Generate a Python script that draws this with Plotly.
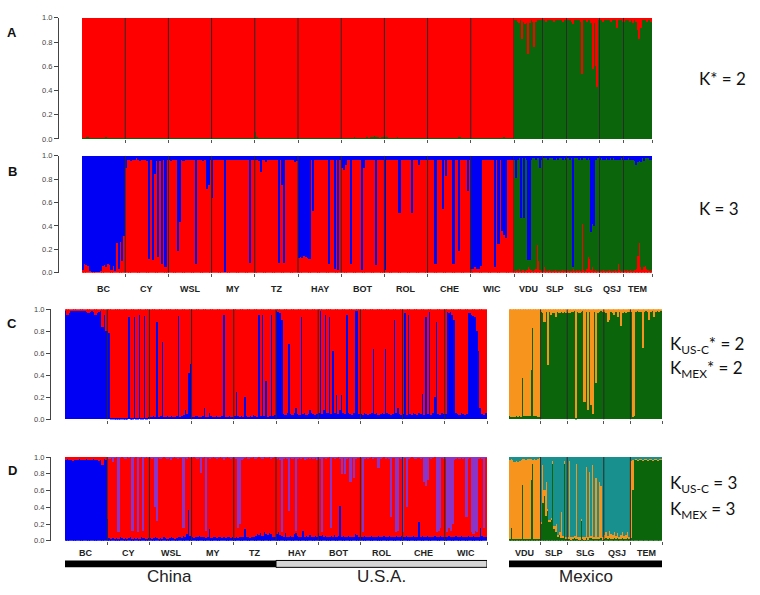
import plotly.graph_objects as go

W, H = 760, 595

# ---------------- data ----------------
pops_cu = ["BC", "CY", "WSL", "MY", "TZ", "HAY", "BOT", "ROL", "CHE", "WIC"]
pops_mx = ["VDU", "SLP", "SLG", "QSJ", "TEM"]
counts_cu = [24, 24, 24, 24, 24, 24, 24, 24, 24, 24]
counts_mx = [19, 16, 22, 16, 19]
countries = ["China", "U.S.A.", "Mexico"]
y_ticks = [0.0, 0.2, 0.4, 0.6, 0.8, 1.0]

# Panel A (K*=2): % green (bottom); red = rest
A_green = [
    1,1,2,2,1,1,1,1,1,1,1,1,1,2,1,1,1,1,1,1,1,1,1,1,          # BC
    1,1,1,1,1,1,1,1,1,1,1,1,1,1,1,1,1,1,1,1,1,1,1,1,          # CY
    1,1,1,1,1,1,1,1,1,1,1,1,1,1,1,1,1,1,1,1,1,1,1,1,          # WSL
    1,1,1,1,1,1,1,1,1,1,1,1,1,1,1,1,1,1,1,1,1,1,1,1,          # MY
    6,2,1,1,1,1,1,1,1,1,1,1,1,1,1,1,1,1,1,1,1,1,1,1,          # TZ
    1,1,1,1,1,1,1,1,1,1,1,1,1,1,1,1,1,1,1,1,1,1,1,1,          # HAY
    1,1,1,1,1,1,1,2,1,1,1,1,1,1,2,1,2,2,3,2,2,1,2,2,          # BOT
    2,2,1,1,1,1,1,2,1,1,1,1,1,1,1,1,1,1,1,1,1,1,1,1,          # ROL
    1,1,1,1,1,1,1,1,1,1,1,1,1,1,1,1,1,2,2,1,1,1,1,1,          # CHE
    1,1,1,1,1,1,1,1,1,1,1,1,1,1,1,1,1,1,2,1,1,1,1,1,          # WIC
    99,98,97,96,98,83,97,95,96,70,96,98,97,76,97,98,99,99,98,  # VDU
    98,99,97,98,99,98,99,97,98,99,98,98,99,97,98,99,          # SLP
    99,98,99,97,95,99,98,99,98,97,54,98,99,97,98,99,96,58,96,60,43,98,  # SLG
    98,99,97,99,98,99,98,97,99,98,99,92,98,99,98,97,          # QSJ
    97,98,99,98,97,99,96,98,97,90,83,92,98,99,98,97,99,98,97,  # TEM
]

# Panel B (K=3): % red (bottom), % green (middle); blue = rest (top)
B_red = [
    3,8,7,6,2,1,1,1,1,1,2,6,7,5,8,7,3,6,2,26,4,27,10,32,
    90,97,97,96,97,97,98,97,96,97,97,97,96,12,97,11,85,96,14,96,8,97,5,97,
    97,96,97,97,97,19,44,97,96,97,97,97,97,97,97,8,97,97,97,96,97,72,75,97,
    64,97,97,97,97,97,97,1,97,97,97,97,97,97,97,97,97,97,97,97,97,9,97,97,
    97,97,96,86,97,97,95,97,97,97,97,97,97,9,97,75,9,97,97,97,97,97,95,96,
    13,14,13,15,14,13,12,97,53,97,97,97,97,97,97,97,97,8,97,97,4,97,3,97,
    90,88,92,97,97,8,97,97,97,97,97,3,90,97,97,97,97,97,97,7,97,97,97,97,
    3,97,97,97,97,97,97,97,51,97,97,97,97,97,97,51,97,97,97,92,97,97,97,97,
    97,97,97,97,8,97,97,97,55,97,83,97,97,97,8,97,97,19,97,97,97,97,70,97,
    4,4,5,4,4,6,97,97,97,97,97,97,97,5,97,25,97,36,33,30,97,97,97,97,
    2,3,2,4,2,3,3,2,3,5,4,3,2,3,4,24,10,3,2,
    2,5,2,2,3,2,2,2,3,2,2,2,2,3,2,2,
    3,2,2,2,4,2,3,2,3,2,42,3,2,4,14,12,3,5,2,3,2,2,
    2,2,3,2,2,2,3,2,2,2,3,2,8,3,2,2,
    3,2,3,2,3,2,2,3,4,15,26,5,3,5,6,4,3,2,3,
]
B_green = [
    0,0,0,0,0,0,0,0,0,0,0,0,0,0,0,0,0,0,0,0,0,0,0,0,
    0,0,0,0,0,0,0,0,0,0,0,0,0,0,0,0,0,0,0,0,0,0,0,0,
    0,0,0,0,0,0,0,0,0,0,0,0,0,0,0,0,0,0,0,0,0,0,0,0,
    0,0,0,0,0,0,0,0,0,0,0,0,0,0,0,0,0,0,0,0,0,0,0,0,
    0,0,0,0,0,0,0,0,0,0,0,0,0,0,0,0,0,0,0,0,0,0,0,0,
    0,0,0,0,0,0,0,0,0,0,0,0,0,0,0,0,0,0,0,0,0,0,0,0,
    0,0,0,0,0,0,0,0,0,0,0,0,0,0,0,0,0,0,0,0,0,0,0,0,
    0,0,0,0,0,0,0,0,0,0,0,0,0,0,0,0,0,0,0,0,0,0,0,0,
    0,0,0,0,0,0,0,0,0,0,0,0,0,0,0,0,0,0,0,0,0,0,0,0,
    0,0,0,0,0,0,0,0,0,0,0,0,0,0,0,0,0,0,0,0,0,0,0,0,
    95,78,95,94,45,95,44,96,94,6,7,94,96,95,93,74,88,87,95,
    96,93,96,95,95,96,96,95,94,96,95,96,96,94,96,95,
    95,96,95,96,1,96,95,96,94,96,55,95,96,93,84,85,32,37,38,94,96,96,
    95,96,94,95,96,95,94,96,95,96,94,95,89,94,96,95,
    94,95,94,96,94,95,95,93,88,80,70,90,95,91,92,94,95,95,94,
]

# Panel C, China/U.S.A. (K=2): % blue (bottom); red = rest
C_blue = [
    99,95,96,98,99,99,99,99,98,99,99,98,97,96,97,98,97,95,96,97,98,84,95,80,
    80,78,1,1,1,1,1,1,1,1,1,1,93,1,1,93,1,1,95,1,1,94,1,2,
    2,2,3,2,88,2,3,70,2,2,3,2,3,2,2,3,94,2,3,4,8,5,42,50,
    2,2,3,3,2,2,3,10,2,2,6,3,2,2,3,2,2,3,95,2,2,3,2,2,
    3,25,3,2,3,2,20,3,2,3,2,4,3,2,95,3,95,3,35,2,3,95,3,4,
    98,97,96,90,5,4,6,68,5,4,6,10,5,4,93,5,6,4,5,8,6,5,4,5,
    6,98,5,8,95,6,93,5,62,6,22,5,8,22,6,5,95,6,5,4,6,98,98,5,
    5,4,6,5,4,5,6,64,5,6,4,5,6,5,64,6,5,4,5,90,6,10,5,4,
    5,96,4,95,5,4,6,5,4,6,5,23,4,93,5,97,4,6,20,88,5,4,6,5,
    5,97,96,97,95,90,6,5,4,6,5,4,5,96,96,95,94,93,80,62,10,5,4,6,
]
# Panel C, Mexico (K=2): % green (bottom); orange = rest
C_green = [
    3,2,2,2,3,2,3,2,37,3,3,3,3,45,83,3,3,2,2,
    97,96,88,97,49,97,95,96,96,93,97,96,97,96,97,96,
    97,96,97,97,98,1,97,96,97,98,16,97,8,97,13,5,97,33,96,97,98,97,
    97,96,88,90,97,96,95,97,93,97,85,96,97,96,97,97,
    97,2,3,97,98,97,97,65,97,98,97,90,97,98,93,97,98,97,98,
]

# Panel D, China/U.S.A. (K=3): % blue (bottom), % purple (top); red = rest
D_blue = [
    97,98,97,96,95,97,96,97,98,97,96,97,98,97,96,97,98,97,96,95,97,90,98,97,
    26,3,2,3,2,3,2,4,3,2,3,2,3,4,2,3,2,3,2,4,3,3,2,3,
    3,2,3,4,3,2,3,2,4,3,2,3,4,3,2,3,4,5,3,6,4,8,37,6,
    4,3,5,4,6,5,5,4,3,5,14,3,4,5,3,4,5,3,4,3,5,4,3,4,
    3,4,3,4,5,4,14,5,4,3,5,4,6,8,7,9,6,10,8,7,9,8,4,5,
    8,10,7,6,5,9,4,5,6,5,8,10,6,5,4,12,5,6,5,7,5,4,6,5,
    9,6,7,5,6,5,4,6,5,7,5,6,41,5,6,4,5,6,5,4,5,8,7,5,
    5,4,6,5,4,5,6,5,4,5,6,4,5,6,4,5,6,5,4,5,6,4,5,6,
    5,4,6,5,4,5,6,5,4,22,5,6,4,5,6,5,4,5,6,4,5,6,5,4,
    4,5,6,5,4,5,6,4,5,6,5,4,5,6,4,5,6,5,4,5,15,6,5,4,
]
D_purple = [
    0,0,0,0,0,0,0,0,0,0,0,0,0,0,0,0,0,0,0,0,0,0,0,0,
    0,2,1,6,1,0,90,1,0,1,2,0,1,0,88,1,0,90,1,0,88,1,0,1,
    1,2,1,60,76,1,2,1,0,1,2,1,3,1,0,1,2,1,1,85,1,2,0,1,
    1,0,1,2,1,19,1,0,88,1,2,1,0,1,2,1,0,1,3,1,0,1,2,1,
    1,2,85,80,3,2,1,0,2,1,1,0,2,1,0,1,2,0,1,1,0,2,1,0,
    2,1,3,90,2,1,2,65,1,2,1,88,2,1,2,1,3,2,1,2,1,2,1,3,
    1,2,90,1,2,1,0,85,1,2,1,0,2,20,1,20,2,1,30,1,25,2,1,1,
    1,90,2,1,2,1,0,2,1,1,13,2,1,0,2,1,2,72,1,1,90,88,1,2,
    90,1,60,2,1,0,1,2,1,1,2,1,30,35,28,1,2,1,0,90,88,85,1,2,
    2,90,85,88,80,3,2,1,2,1,2,1,72,2,1,90,92,88,90,2,1,2,85,1,
]
# Panel D, Mexico (K=3): % green (bottom), % teal (top); orange = rest (middle)
D_green = [
    2,15,2,2,2,2,2,2,67,2,2,2,2,73,92,2,2,2,2,
    20,45,54,30,35,23,25,92,15,10,5,8,3,4,92,3,
    3,2,2,2,3,2,3,2,23,3,2,3,2,3,4,2,3,2,3,2,3,2,
    2,3,2,3,2,2,3,2,3,2,2,3,2,2,3,2,
    3,60,97,97,96,97,97,96,97,97,96,97,97,96,97,97,96,97,97,
]
D_teal = [
    3,2,4,6,5,6,5,3,2,2,3,2,2,2,3,2,4,2,1,
    78,10,40,30,62,75,73,5,83,80,93,90,66,94,5,95,
    95,5,96,95,94,8,95,96,74,95,96,12,96,18,94,10,95,25,95,30,35,96,
    93,90,94,88,92,93,90,94,91,95,93,90,94,93,90,95,
    5,3,3,2,3,2,2,3,2,2,3,2,2,3,2,2,3,2,2,
]

# ---------------- style ----------------
RED = "#FF0000"
GREEN = "#0B650B"
BLUE = "#0000F5"
ORANGE = "#F7941D"
TEAL = "#18908E"
PURPLE = "#8B35C8"
DIV = "#2A2A2A"
AXC = "#444444"


def fx(p):
    return p / W


def fy(p):
    return 1 - p / H


def frac(v):
    return [a / 100 for a in v]


def rest(*lists):
    return [(100 - sum(t)) / 100 for t in zip(*lists)]


def cum_bounds(counts):
    b = [0]
    for c in counts:
        b.append(b[-1] + c)
    return b


NCU = sum(counts_cu)

fig = go.Figure()
layout = dict(
    width=W, height=H, margin=dict(l=0, r=0, t=0, b=0),
    paper_bgcolor="white", plot_bgcolor="white",
    barmode="stack", bargap=0, showlegend=False,
    font=dict(family="Liberation Sans, Arial, sans-serif", color="#222"),
)

A_Y = (14, 137)
B_Y = (154, 273)
C_Y = (310, 422)
D_Y = (460, 545)
CU_X = (65, 487)
MX_X = (509, 662)
# (axis id, x0, x1, ytop, ybot, y-axis line x or None, counts, divider at end)
panels = [
    ("", 82, 514, A_Y[0], A_Y[1], 58, counts_cu, True),
    ("7", 514, 652, A_Y[0], A_Y[1], None, counts_mx, False),
    ("2", 82, 514, B_Y[0], B_Y[1], 58, counts_cu, True),
    ("8", 514, 652, B_Y[0], B_Y[1], None, counts_mx, False),
    ("3", CU_X[0], CU_X[1], C_Y[0], C_Y[1], 50, counts_cu, False),
    ("4", MX_X[0], MX_X[1], C_Y[0], C_Y[1], None, counts_mx, False),
    ("5", CU_X[0], CU_X[1], D_Y[0], D_Y[1], 50, counts_cu, False),
    ("6", MX_X[0], MX_X[1], D_Y[0], D_Y[1], None, counts_mx, False),
]

shapes = []
annotations = []


def ref(prefix, aid):
    return prefix + aid if aid else prefix


for aid, x0, x1, yt, yb, axx, cnts, enddiv in panels:
    n = sum(cnts)
    bounds = cum_bounds(cnts)
    divs = [b - 0.5 for b in bounds[1:]]
    layout[ref("xaxis", aid)] = dict(
        domain=[fx(x0), fx(x1)], anchor=ref("y", aid), range=[-0.5, n - 0.5],
        showgrid=False, zeroline=False, showline=False,
        tickvals=divs, ticks="outside", ticklen=3, tickwidth=1,
        tickcolor="#555", showticklabels=False, fixedrange=True,
    )
    ya = dict(
        domain=[fy(yb), fy(yt)], range=[0, 1], showgrid=False, zeroline=False,
        fixedrange=True,
    )
    if axx is None:
        ya.update(visible=False, anchor=ref("x", aid))
    else:
        ya.update(
            anchor="free", position=fx(axx), showline=True, linecolor=AXC,
            linewidth=1, ticks="outside", ticklen=4, tickcolor=AXC,
            tickvals=y_ticks, tickformat=".1f",
            tickfont=dict(size=7.5, color="#444", family="Liberation Sans, Arial"),
        )
    layout[ref("yaxis", aid)] = ya
    for d in (divs if enddiv else divs[:-1]):
        shapes.append(dict(type="line", xref=ref("x", aid), yref=ref("y", aid),
                           x0=d, x1=d, y0=0, y1=1,
                           line=dict(color=DIV, width=1), layer="above"))


def add_bars(aid, series):
    n = len(series[0][0])
    xs = list(range(n))
    for vals, col in series:
        fig.add_trace(go.Bar(
            x=xs, y=vals, xaxis=ref("x", aid), yaxis=ref("y", aid), width=1,
            marker=dict(color=col, line=dict(width=0)),
            hoverinfo="skip",
        ))


# A
add_bars("", [(frac(A_green[:NCU]), GREEN), (rest(A_green[:NCU]), RED)])
add_bars("7", [(frac(A_green[NCU:]), GREEN), (rest(A_green[NCU:]), RED)])
# B
add_bars("2", [(frac(B_red[:NCU]), RED), (frac(B_green[:NCU]), GREEN),
               (rest(B_red[:NCU], B_green[:NCU]), BLUE)])
add_bars("8", [(frac(B_red[NCU:]), RED), (frac(B_green[NCU:]), GREEN),
               (rest(B_red[NCU:], B_green[NCU:]), BLUE)])
# C
add_bars("3", [(frac(C_blue), BLUE), (rest(C_blue), RED)])
add_bars("4", [(frac(C_green), GREEN), (rest(C_green), ORANGE)])
# D
add_bars("5", [(frac(D_blue), BLUE), (rest(D_blue, D_purple), RED), (frac(D_purple), PURPLE)])
add_bars("6", [(frac(D_green), GREEN), (rest(D_green, D_teal), ORANGE), (frac(D_teal), TEAL)])


def pop_labels(aid, pops, cnts, ypix):
    b = cum_bounds(cnts)
    for i, p in enumerate(pops):
        annotations.append(dict(
            x=(b[i] + b[i + 1] - 1) / 2, y=fy(ypix), xref=ref("x", aid), yref="paper",
            text="<b>" + p + "</b>", showarrow=False, xanchor="center", yanchor="middle",
            font=dict(size=9, color="#222", family="Liberation Sans, Arial"),
        ))


pop_labels("2", pops_cu, counts_cu, 289)
pop_labels("8", pops_mx, counts_mx, 289)
pop_labels("5", pops_cu, counts_cu, 557)
pop_labels("6", pops_mx, counts_mx, 557)

# country bars
bcu = cum_bounds(counts_cu)
half = bcu[5] - 0.5
shapes.append(dict(type="rect", xref="x5", yref="paper", x0=-1.6, x1=half,
                   y0=fy(572), y1=fy(565), fillcolor="black", line=dict(width=0)))
shapes.append(dict(type="rect", xref="x5", yref="paper", x0=half, x1=bcu[-1] - 0.5,
                   y0=fy(572), y1=fy(565), fillcolor="#D6D6D6",
                   line=dict(color="black", width=1)))
bmx = cum_bounds(counts_mx)
shapes.append(dict(type="rect", xref="x6", yref="paper", x0=-0.5, x1=bmx[-1] - 0.5,
                   y0=fy(572), y1=fy(565), fillcolor="black", line=dict(width=0)))

cfont = dict(size=17, color="#222", family="Liberation Sans, Arial")
for txt, xr, xc in [
    (countries[0], "x5", (-1.6 + half) / 2),
    (countries[1], "x5", (half + bcu[-1] - 0.5) / 2),
    (countries[2], "x6", (bmx[-1] - 1) / 2),
]:
    annotations.append(dict(x=xc, y=fy(581), xref=xr, yref="paper", text=txt,
                            showarrow=False, xanchor="center", yanchor="middle",
                            font=cfont))

# panel letters
for letter, ypix in [("A", 29), ("B", 170), ("C", 324), ("D", 474)]:
    annotations.append(dict(x=fx(12), y=fy(ypix), xref="paper", yref="paper",
                            text="<b>" + letter + "</b>", showarrow=False,
                            xanchor="center", yanchor="middle",
                            font=dict(size=13, color="#111", family="Liberation Sans, Arial")))

kfont = dict(size=17, color="#111", family="Lato, Open Sans, sans-serif")
for txt, xpix, ypix in [
    ("K* = 2", 697, 76),
    ("K = 3", 697, 208),
    ("K<sub>US-C</sub>* = 2", 668, 346),
    ("K<sub>MEX</sub>* = 2", 668, 371),
    ("K<sub>US-C</sub> = 3", 668, 487),
    ("K<sub>MEX</sub> = 3", 668, 514),
]:
    annotations.append(dict(x=fx(xpix), y=fy(ypix), xref="paper", yref="paper",
                            text=txt, showarrow=False, xanchor="left", yanchor="middle",
                            font=kfont))

layout["shapes"] = shapes
layout["annotations"] = annotations
fig.update_layout(**layout)
fig.write_html("out.html", config={"displayModeBar": False},
               post_script="document.body.style.margin='0';")
